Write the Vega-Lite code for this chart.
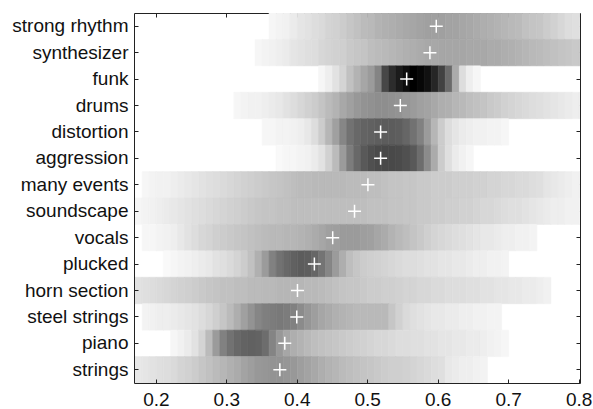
{
  "$schema": "https://vega.github.io/schema/vega-lite/v6.json",
  "width": 446,
  "height": 370,
  "autosize": {"type": "none"},
  "padding": {"left": 134, "top": 13, "right": 13, "bottom": 26},
  "background": "white",
  "config": {
    "view": {"stroke": null},
    "axis": {
      "labelFont": "Liberation Sans",
      "labelFontSize": 19,
      "labelColor": "#111",
      "domainColor": "#222",
      "tickColor": "#222",
      "grid": false,
      "tickSize": -4,
      "domainWidth": 1,
      "tickWidth": 1
    }
  },
  "datasets": {
    "means": [
      {"tag": "strong rhythm", "mean": 0.598},
      {"tag": "synthesizer", "mean": 0.589},
      {"tag": "funk", "mean": 0.556},
      {"tag": "drums", "mean": 0.547},
      {"tag": "distortion", "mean": 0.519},
      {"tag": "aggression", "mean": 0.519},
      {"tag": "many events", "mean": 0.501},
      {"tag": "soundscape", "mean": 0.482},
      {"tag": "vocals", "mean": 0.451},
      {"tag": "plucked", "mean": 0.425},
      {"tag": "horn section", "mean": 0.401},
      {"tag": "steel strings", "mean": 0.4},
      {"tag": "piano", "mean": 0.383},
      {"tag": "strings", "mean": 0.376}
    ],
    "cells": [
      {"tag":"strong rhythm","x":0.36,"d":0.03},{"tag":"strong rhythm","x":0.37,"d":0.04},{"tag":"strong rhythm","x":0.38,"d":0.05},{"tag":"strong rhythm","x":0.39,"d":0.07},{"tag":"strong rhythm","x":0.40,"d":0.09},{"tag":"strong rhythm","x":0.41,"d":0.10},{"tag":"strong rhythm","x":0.42,"d":0.12},{"tag":"strong rhythm","x":0.43,"d":0.13},{"tag":"strong rhythm","x":0.44,"d":0.15},{"tag":"strong rhythm","x":0.45,"d":0.16},{"tag":"strong rhythm","x":0.46,"d":0.18},{"tag":"strong rhythm","x":0.47,"d":0.20},{"tag":"strong rhythm","x":0.48,"d":0.22},{"tag":"strong rhythm","x":0.49,"d":0.24},{"tag":"strong rhythm","x":0.50,"d":0.25},{"tag":"strong rhythm","x":0.51,"d":0.27},{"tag":"strong rhythm","x":0.52,"d":0.28},{"tag":"strong rhythm","x":0.53,"d":0.29},{"tag":"strong rhythm","x":0.54,"d":0.30},{"tag":"strong rhythm","x":0.55,"d":0.31},{"tag":"strong rhythm","x":0.56,"d":0.32},{"tag":"strong rhythm","x":0.57,"d":0.33},{"tag":"strong rhythm","x":0.58,"d":0.34},{"tag":"strong rhythm","x":0.59,"d":0.34},{"tag":"strong rhythm","x":0.60,"d":0.34},{"tag":"strong rhythm","x":0.61,"d":0.33},{"tag":"strong rhythm","x":0.62,"d":0.33},{"tag":"strong rhythm","x":0.63,"d":0.32},{"tag":"strong rhythm","x":0.64,"d":0.31},{"tag":"strong rhythm","x":0.65,"d":0.30},{"tag":"strong rhythm","x":0.66,"d":0.29},{"tag":"strong rhythm","x":0.67,"d":0.28},{"tag":"strong rhythm","x":0.68,"d":0.27},{"tag":"strong rhythm","x":0.69,"d":0.26},{"tag":"strong rhythm","x":0.70,"d":0.25},{"tag":"strong rhythm","x":0.71,"d":0.24},{"tag":"strong rhythm","x":0.72,"d":0.22},{"tag":"strong rhythm","x":0.73,"d":0.21},{"tag":"strong rhythm","x":0.74,"d":0.20},{"tag":"strong rhythm","x":0.75,"d":0.18},{"tag":"strong rhythm","x":0.76,"d":0.16},{"tag":"strong rhythm","x":0.77,"d":0.14},{"tag":"strong rhythm","x":0.78,"d":0.12},{"tag":"strong rhythm","x":0.79,"d":0.11},{"tag":"strong rhythm","x":0.80,"d":0.10},

      {"tag":"synthesizer","x":0.34,"d":0.03},{"tag":"synthesizer","x":0.35,"d":0.04},{"tag":"synthesizer","x":0.36,"d":0.05},{"tag":"synthesizer","x":0.37,"d":0.06},{"tag":"synthesizer","x":0.38,"d":0.07},{"tag":"synthesizer","x":0.39,"d":0.09},{"tag":"synthesizer","x":0.40,"d":0.10},{"tag":"synthesizer","x":0.41,"d":0.11},{"tag":"synthesizer","x":0.42,"d":0.12},{"tag":"synthesizer","x":0.43,"d":0.14},{"tag":"synthesizer","x":0.44,"d":0.15},{"tag":"synthesizer","x":0.45,"d":0.16},{"tag":"synthesizer","x":0.46,"d":0.17},{"tag":"synthesizer","x":0.47,"d":0.19},{"tag":"synthesizer","x":0.48,"d":0.20},{"tag":"synthesizer","x":0.49,"d":0.21},{"tag":"synthesizer","x":0.50,"d":0.23},{"tag":"synthesizer","x":0.51,"d":0.24},{"tag":"synthesizer","x":0.52,"d":0.25},{"tag":"synthesizer","x":0.53,"d":0.26},{"tag":"synthesizer","x":0.54,"d":0.27},{"tag":"synthesizer","x":0.55,"d":0.28},{"tag":"synthesizer","x":0.56,"d":0.29},{"tag":"synthesizer","x":0.57,"d":0.30},{"tag":"synthesizer","x":0.58,"d":0.31},{"tag":"synthesizer","x":0.59,"d":0.31},{"tag":"synthesizer","x":0.60,"d":0.32},{"tag":"synthesizer","x":0.61,"d":0.32},{"tag":"synthesizer","x":0.62,"d":0.32},{"tag":"synthesizer","x":0.63,"d":0.32},{"tag":"synthesizer","x":0.64,"d":0.31},{"tag":"synthesizer","x":0.65,"d":0.31},{"tag":"synthesizer","x":0.66,"d":0.31},{"tag":"synthesizer","x":0.67,"d":0.30},{"tag":"synthesizer","x":0.68,"d":0.30},{"tag":"synthesizer","x":0.69,"d":0.29},{"tag":"synthesizer","x":0.70,"d":0.28},{"tag":"synthesizer","x":0.71,"d":0.27},{"tag":"synthesizer","x":0.72,"d":0.26},{"tag":"synthesizer","x":0.73,"d":0.25},{"tag":"synthesizer","x":0.74,"d":0.24},{"tag":"synthesizer","x":0.75,"d":0.23},{"tag":"synthesizer","x":0.76,"d":0.22},{"tag":"synthesizer","x":0.77,"d":0.21},{"tag":"synthesizer","x":0.78,"d":0.20},{"tag":"synthesizer","x":0.79,"d":0.19},{"tag":"synthesizer","x":0.80,"d":0.19},

      {"tag":"funk","x":0.43,"d":0.03},{"tag":"funk","x":0.44,"d":0.06},{"tag":"funk","x":0.45,"d":0.10},{"tag":"funk","x":0.46,"d":0.15},{"tag":"funk","x":0.47,"d":0.22},{"tag":"funk","x":0.48,"d":0.27},{"tag":"funk","x":0.49,"d":0.32},{"tag":"funk","x":0.50,"d":0.36},{"tag":"funk","x":0.51,"d":0.45},{"tag":"funk","x":0.52,"d":0.70},{"tag":"funk","x":0.53,"d":0.82},{"tag":"funk","x":0.54,"d":0.90},{"tag":"funk","x":0.55,"d":0.96},{"tag":"funk","x":0.56,"d":1.0},{"tag":"funk","x":0.57,"d":0.98},{"tag":"funk","x":0.58,"d":0.95},{"tag":"funk","x":0.59,"d":0.85},{"tag":"funk","x":0.60,"d":0.72},{"tag":"funk","x":0.61,"d":0.55},{"tag":"funk","x":0.62,"d":0.30},{"tag":"funk","x":0.63,"d":0.12},{"tag":"funk","x":0.64,"d":0.06},{"tag":"funk","x":0.65,"d":0.03},

      {"tag":"drums","x":0.31,"d":0.03},{"tag":"drums","x":0.32,"d":0.04},{"tag":"drums","x":0.33,"d":0.05},{"tag":"drums","x":0.34,"d":0.05},{"tag":"drums","x":0.35,"d":0.06},{"tag":"drums","x":0.36,"d":0.07},{"tag":"drums","x":0.37,"d":0.08},{"tag":"drums","x":0.38,"d":0.10},{"tag":"drums","x":0.39,"d":0.12},{"tag":"drums","x":0.40,"d":0.14},{"tag":"drums","x":0.41,"d":0.16},{"tag":"drums","x":0.42,"d":0.18},{"tag":"drums","x":0.43,"d":0.21},{"tag":"drums","x":0.44,"d":0.24},{"tag":"drums","x":0.45,"d":0.27},{"tag":"drums","x":0.46,"d":0.31},{"tag":"drums","x":0.47,"d":0.34},{"tag":"drums","x":0.48,"d":0.37},{"tag":"drums","x":0.49,"d":0.39},{"tag":"drums","x":0.50,"d":0.40},{"tag":"drums","x":0.51,"d":0.41},{"tag":"drums","x":0.52,"d":0.41},{"tag":"drums","x":0.53,"d":0.40},{"tag":"drums","x":0.54,"d":0.39},{"tag":"drums","x":0.55,"d":0.37},{"tag":"drums","x":0.56,"d":0.36},{"tag":"drums","x":0.57,"d":0.34},{"tag":"drums","x":0.58,"d":0.33},{"tag":"drums","x":0.59,"d":0.31},{"tag":"drums","x":0.60,"d":0.29},{"tag":"drums","x":0.61,"d":0.28},{"tag":"drums","x":0.62,"d":0.26},{"tag":"drums","x":0.63,"d":0.25},{"tag":"drums","x":0.64,"d":0.23},{"tag":"drums","x":0.65,"d":0.22},{"tag":"drums","x":0.66,"d":0.21},{"tag":"drums","x":0.67,"d":0.19},{"tag":"drums","x":0.68,"d":0.18},{"tag":"drums","x":0.69,"d":0.16},{"tag":"drums","x":0.70,"d":0.15},{"tag":"drums","x":0.71,"d":0.14},{"tag":"drums","x":0.72,"d":0.13},{"tag":"drums","x":0.73,"d":0.12},{"tag":"drums","x":0.74,"d":0.11},{"tag":"drums","x":0.75,"d":0.10},{"tag":"drums","x":0.76,"d":0.09},{"tag":"drums","x":0.77,"d":0.08},{"tag":"drums","x":0.78,"d":0.07},{"tag":"drums","x":0.79,"d":0.06},{"tag":"drums","x":0.80,"d":0.06},

      {"tag":"distortion","x":0.35,"d":0.03},{"tag":"distortion","x":0.36,"d":0.03},{"tag":"distortion","x":0.37,"d":0.04},{"tag":"distortion","x":0.38,"d":0.04},{"tag":"distortion","x":0.39,"d":0.05},{"tag":"distortion","x":0.40,"d":0.06},{"tag":"distortion","x":0.41,"d":0.08},{"tag":"distortion","x":0.42,"d":0.12},{"tag":"distortion","x":0.43,"d":0.18},{"tag":"distortion","x":0.44,"d":0.26},{"tag":"distortion","x":0.45,"d":0.34},{"tag":"distortion","x":0.46,"d":0.44},{"tag":"distortion","x":0.47,"d":0.52},{"tag":"distortion","x":0.48,"d":0.56},{"tag":"distortion","x":0.49,"d":0.58},{"tag":"distortion","x":0.50,"d":0.59},{"tag":"distortion","x":0.51,"d":0.60},{"tag":"distortion","x":0.52,"d":0.61},{"tag":"distortion","x":0.53,"d":0.61},{"tag":"distortion","x":0.54,"d":0.60},{"tag":"distortion","x":0.55,"d":0.57},{"tag":"distortion","x":0.56,"d":0.52},{"tag":"distortion","x":0.57,"d":0.46},{"tag":"distortion","x":0.58,"d":0.36},{"tag":"distortion","x":0.59,"d":0.26},{"tag":"distortion","x":0.60,"d":0.18},{"tag":"distortion","x":0.61,"d":0.12},{"tag":"distortion","x":0.62,"d":0.09},{"tag":"distortion","x":0.63,"d":0.07},{"tag":"distortion","x":0.64,"d":0.06},{"tag":"distortion","x":0.65,"d":0.05},{"tag":"distortion","x":0.66,"d":0.05},{"tag":"distortion","x":0.67,"d":0.04},{"tag":"distortion","x":0.68,"d":0.04},{"tag":"distortion","x":0.69,"d":0.03},

      {"tag":"aggression","x":0.37,"d":0.02},{"tag":"aggression","x":0.38,"d":0.03},{"tag":"aggression","x":0.39,"d":0.03},{"tag":"aggression","x":0.40,"d":0.04},{"tag":"aggression","x":0.41,"d":0.05},{"tag":"aggression","x":0.42,"d":0.07},{"tag":"aggression","x":0.43,"d":0.10},{"tag":"aggression","x":0.44,"d":0.16},{"tag":"aggression","x":0.45,"d":0.24},{"tag":"aggression","x":0.46,"d":0.36},{"tag":"aggression","x":0.47,"d":0.48},{"tag":"aggression","x":0.48,"d":0.56},{"tag":"aggression","x":0.49,"d":0.62},{"tag":"aggression","x":0.50,"d":0.66},{"tag":"aggression","x":0.51,"d":0.68},{"tag":"aggression","x":0.52,"d":0.69},{"tag":"aggression","x":0.53,"d":0.69},{"tag":"aggression","x":0.54,"d":0.68},{"tag":"aggression","x":0.55,"d":0.66},{"tag":"aggression","x":0.56,"d":0.62},{"tag":"aggression","x":0.57,"d":0.54},{"tag":"aggression","x":0.58,"d":0.42},{"tag":"aggression","x":0.59,"d":0.30},{"tag":"aggression","x":0.60,"d":0.18},{"tag":"aggression","x":0.61,"d":0.11},{"tag":"aggression","x":0.62,"d":0.07},{"tag":"aggression","x":0.63,"d":0.05},{"tag":"aggression","x":0.64,"d":0.03},

      {"tag":"many events","x":0.18,"d":0.03},{"tag":"many events","x":0.19,"d":0.04},{"tag":"many events","x":0.20,"d":0.05},{"tag":"many events","x":0.21,"d":0.05},{"tag":"many events","x":0.22,"d":0.06},{"tag":"many events","x":0.23,"d":0.07},{"tag":"many events","x":0.24,"d":0.08},{"tag":"many events","x":0.25,"d":0.09},{"tag":"many events","x":0.26,"d":0.10},{"tag":"many events","x":0.27,"d":0.11},{"tag":"many events","x":0.28,"d":0.12},{"tag":"many events","x":0.29,"d":0.13},{"tag":"many events","x":0.30,"d":0.14},{"tag":"many events","x":0.31,"d":0.15},{"tag":"many events","x":0.32,"d":0.16},{"tag":"many events","x":0.33,"d":0.17},{"tag":"many events","x":0.34,"d":0.18},{"tag":"many events","x":0.35,"d":0.19},{"tag":"many events","x":0.36,"d":0.20},{"tag":"many events","x":0.37,"d":0.21},{"tag":"many events","x":0.38,"d":0.22},{"tag":"many events","x":0.39,"d":0.23},{"tag":"many events","x":0.40,"d":0.24},{"tag":"many events","x":0.41,"d":0.24},{"tag":"many events","x":0.42,"d":0.25},{"tag":"many events","x":0.43,"d":0.25},{"tag":"many events","x":0.44,"d":0.25},{"tag":"many events","x":0.45,"d":0.25},{"tag":"many events","x":0.46,"d":0.25},{"tag":"many events","x":0.47,"d":0.24},{"tag":"many events","x":0.48,"d":0.24},{"tag":"many events","x":0.49,"d":0.24},{"tag":"many events","x":0.50,"d":0.23},{"tag":"many events","x":0.51,"d":0.23},{"tag":"many events","x":0.52,"d":0.22},{"tag":"many events","x":0.53,"d":0.21},{"tag":"many events","x":0.54,"d":0.21},{"tag":"many events","x":0.55,"d":0.20},{"tag":"many events","x":0.56,"d":0.20},{"tag":"many events","x":0.57,"d":0.19},{"tag":"many events","x":0.58,"d":0.19},{"tag":"many events","x":0.59,"d":0.18},{"tag":"many events","x":0.60,"d":0.18},{"tag":"many events","x":0.61,"d":0.18},{"tag":"many events","x":0.62,"d":0.17},{"tag":"many events","x":0.63,"d":0.17},{"tag":"many events","x":0.64,"d":0.17},{"tag":"many events","x":0.65,"d":0.16},{"tag":"many events","x":0.66,"d":0.16},{"tag":"many events","x":0.67,"d":0.15},{"tag":"many events","x":0.68,"d":0.15},{"tag":"many events","x":0.69,"d":0.14},{"tag":"many events","x":0.70,"d":0.14},{"tag":"many events","x":0.71,"d":0.13},{"tag":"many events","x":0.72,"d":0.13},{"tag":"many events","x":0.73,"d":0.12},{"tag":"many events","x":0.74,"d":0.11},{"tag":"many events","x":0.75,"d":0.09},{"tag":"many events","x":0.76,"d":0.08},{"tag":"many events","x":0.77,"d":0.07},{"tag":"many events","x":0.78,"d":0.06},{"tag":"many events","x":0.79,"d":0.05},{"tag":"many events","x":0.80,"d":0.05},

      {"tag":"soundscape","x":0.16,"d":0.03},{"tag":"soundscape","x":0.17,"d":0.03},{"tag":"soundscape","x":0.18,"d":0.04},{"tag":"soundscape","x":0.19,"d":0.05},{"tag":"soundscape","x":0.20,"d":0.06},{"tag":"soundscape","x":0.21,"d":0.07},{"tag":"soundscape","x":0.22,"d":0.08},{"tag":"soundscape","x":0.23,"d":0.09},{"tag":"soundscape","x":0.24,"d":0.10},{"tag":"soundscape","x":0.25,"d":0.11},{"tag":"soundscape","x":0.26,"d":0.12},{"tag":"soundscape","x":0.27,"d":0.13},{"tag":"soundscape","x":0.28,"d":0.14},{"tag":"soundscape","x":0.29,"d":0.15},{"tag":"soundscape","x":0.30,"d":0.16},{"tag":"soundscape","x":0.31,"d":0.17},{"tag":"soundscape","x":0.32,"d":0.18},{"tag":"soundscape","x":0.33,"d":0.19},{"tag":"soundscape","x":0.34,"d":0.20},{"tag":"soundscape","x":0.35,"d":0.21},{"tag":"soundscape","x":0.36,"d":0.21},{"tag":"soundscape","x":0.37,"d":0.22},{"tag":"soundscape","x":0.38,"d":0.22},{"tag":"soundscape","x":0.39,"d":0.23},{"tag":"soundscape","x":0.40,"d":0.23},{"tag":"soundscape","x":0.41,"d":0.23},{"tag":"soundscape","x":0.42,"d":0.23},{"tag":"soundscape","x":0.43,"d":0.23},{"tag":"soundscape","x":0.44,"d":0.23},{"tag":"soundscape","x":0.45,"d":0.23},{"tag":"soundscape","x":0.46,"d":0.23},{"tag":"soundscape","x":0.47,"d":0.23},{"tag":"soundscape","x":0.48,"d":0.23},{"tag":"soundscape","x":0.49,"d":0.23},{"tag":"soundscape","x":0.50,"d":0.22},{"tag":"soundscape","x":0.51,"d":0.22},{"tag":"soundscape","x":0.52,"d":0.22},{"tag":"soundscape","x":0.53,"d":0.21},{"tag":"soundscape","x":0.54,"d":0.21},{"tag":"soundscape","x":0.55,"d":0.20},{"tag":"soundscape","x":0.56,"d":0.20},{"tag":"soundscape","x":0.57,"d":0.19},{"tag":"soundscape","x":0.58,"d":0.19},{"tag":"soundscape","x":0.59,"d":0.18},{"tag":"soundscape","x":0.60,"d":0.18},{"tag":"soundscape","x":0.61,"d":0.17},{"tag":"soundscape","x":0.62,"d":0.17},{"tag":"soundscape","x":0.63,"d":0.16},{"tag":"soundscape","x":0.64,"d":0.16},{"tag":"soundscape","x":0.65,"d":0.15},{"tag":"soundscape","x":0.66,"d":0.14},{"tag":"soundscape","x":0.67,"d":0.14},{"tag":"soundscape","x":0.68,"d":0.13},{"tag":"soundscape","x":0.69,"d":0.12},{"tag":"soundscape","x":0.70,"d":0.11},{"tag":"soundscape","x":0.71,"d":0.11},{"tag":"soundscape","x":0.72,"d":0.10},{"tag":"soundscape","x":0.73,"d":0.09},{"tag":"soundscape","x":0.74,"d":0.08},{"tag":"soundscape","x":0.75,"d":0.07},{"tag":"soundscape","x":0.76,"d":0.06},{"tag":"soundscape","x":0.77,"d":0.06},{"tag":"soundscape","x":0.78,"d":0.05},{"tag":"soundscape","x":0.79,"d":0.05},{"tag":"soundscape","x":0.80,"d":0.04},

      {"tag":"vocals","x":0.18,"d":0.03},{"tag":"vocals","x":0.19,"d":0.03},{"tag":"vocals","x":0.20,"d":0.04},{"tag":"vocals","x":0.21,"d":0.05},{"tag":"vocals","x":0.22,"d":0.06},{"tag":"vocals","x":0.23,"d":0.08},{"tag":"vocals","x":0.24,"d":0.10},{"tag":"vocals","x":0.25,"d":0.12},{"tag":"vocals","x":0.26,"d":0.14},{"tag":"vocals","x":0.27,"d":0.15},{"tag":"vocals","x":0.28,"d":0.17},{"tag":"vocals","x":0.29,"d":0.18},{"tag":"vocals","x":0.30,"d":0.19},{"tag":"vocals","x":0.31,"d":0.20},{"tag":"vocals","x":0.32,"d":0.21},{"tag":"vocals","x":0.33,"d":0.22},{"tag":"vocals","x":0.34,"d":0.23},{"tag":"vocals","x":0.35,"d":0.24},{"tag":"vocals","x":0.36,"d":0.25},{"tag":"vocals","x":0.37,"d":0.25},{"tag":"vocals","x":0.38,"d":0.26},{"tag":"vocals","x":0.39,"d":0.26},{"tag":"vocals","x":0.40,"d":0.27},{"tag":"vocals","x":0.41,"d":0.28},{"tag":"vocals","x":0.42,"d":0.30},{"tag":"vocals","x":0.43,"d":0.32},{"tag":"vocals","x":0.44,"d":0.34},{"tag":"vocals","x":0.45,"d":0.35},{"tag":"vocals","x":0.46,"d":0.36},{"tag":"vocals","x":0.47,"d":0.36},{"tag":"vocals","x":0.48,"d":0.36},{"tag":"vocals","x":0.49,"d":0.35},{"tag":"vocals","x":0.50,"d":0.34},{"tag":"vocals","x":0.51,"d":0.32},{"tag":"vocals","x":0.52,"d":0.30},{"tag":"vocals","x":0.53,"d":0.27},{"tag":"vocals","x":0.54,"d":0.25},{"tag":"vocals","x":0.55,"d":0.23},{"tag":"vocals","x":0.56,"d":0.21},{"tag":"vocals","x":0.57,"d":0.19},{"tag":"vocals","x":0.58,"d":0.17},{"tag":"vocals","x":0.59,"d":0.15},{"tag":"vocals","x":0.60,"d":0.14},{"tag":"vocals","x":0.61,"d":0.13},{"tag":"vocals","x":0.62,"d":0.12},{"tag":"vocals","x":0.63,"d":0.11},{"tag":"vocals","x":0.64,"d":0.10},{"tag":"vocals","x":0.65,"d":0.09},{"tag":"vocals","x":0.66,"d":0.08},{"tag":"vocals","x":0.67,"d":0.08},{"tag":"vocals","x":0.68,"d":0.07},{"tag":"vocals","x":0.69,"d":0.06},{"tag":"vocals","x":0.70,"d":0.06},{"tag":"vocals","x":0.71,"d":0.05},{"tag":"vocals","x":0.72,"d":0.05},{"tag":"vocals","x":0.73,"d":0.04},

      {"tag":"plucked","x":0.21,"d":0.02},{"tag":"plucked","x":0.22,"d":0.03},{"tag":"plucked","x":0.23,"d":0.04},{"tag":"plucked","x":0.24,"d":0.05},{"tag":"plucked","x":0.25,"d":0.06},{"tag":"plucked","x":0.26,"d":0.07},{"tag":"plucked","x":0.27,"d":0.08},{"tag":"plucked","x":0.28,"d":0.10},{"tag":"plucked","x":0.29,"d":0.11},{"tag":"plucked","x":0.30,"d":0.13},{"tag":"plucked","x":0.31,"d":0.15},{"tag":"plucked","x":0.32,"d":0.18},{"tag":"plucked","x":0.33,"d":0.22},{"tag":"plucked","x":0.34,"d":0.28},{"tag":"plucked","x":0.35,"d":0.36},{"tag":"plucked","x":0.36,"d":0.46},{"tag":"plucked","x":0.37,"d":0.52},{"tag":"plucked","x":0.38,"d":0.56},{"tag":"plucked","x":0.39,"d":0.59},{"tag":"plucked","x":0.40,"d":0.61},{"tag":"plucked","x":0.41,"d":0.60},{"tag":"plucked","x":0.42,"d":0.57},{"tag":"plucked","x":0.43,"d":0.51},{"tag":"plucked","x":0.44,"d":0.44},{"tag":"plucked","x":0.45,"d":0.36},{"tag":"plucked","x":0.46,"d":0.29},{"tag":"plucked","x":0.47,"d":0.23},{"tag":"plucked","x":0.48,"d":0.20},{"tag":"plucked","x":0.49,"d":0.18},{"tag":"plucked","x":0.50,"d":0.17},{"tag":"plucked","x":0.51,"d":0.16},{"tag":"plucked","x":0.52,"d":0.15},{"tag":"plucked","x":0.53,"d":0.14},{"tag":"plucked","x":0.54,"d":0.13},{"tag":"plucked","x":0.55,"d":0.12},{"tag":"plucked","x":0.56,"d":0.12},{"tag":"plucked","x":0.57,"d":0.11},{"tag":"plucked","x":0.58,"d":0.10},{"tag":"plucked","x":0.59,"d":0.10},{"tag":"plucked","x":0.60,"d":0.09},{"tag":"plucked","x":0.61,"d":0.09},{"tag":"plucked","x":0.62,"d":0.08},{"tag":"plucked","x":0.63,"d":0.08},{"tag":"plucked","x":0.64,"d":0.07},{"tag":"plucked","x":0.65,"d":0.06},{"tag":"plucked","x":0.66,"d":0.06},{"tag":"plucked","x":0.67,"d":0.05},{"tag":"plucked","x":0.68,"d":0.05},{"tag":"plucked","x":0.69,"d":0.04},

      {"tag":"horn section","x":0.16,"d":0.10},{"tag":"horn section","x":0.17,"d":0.10},{"tag":"horn section","x":0.18,"d":0.11},{"tag":"horn section","x":0.19,"d":0.12},{"tag":"horn section","x":0.20,"d":0.13},{"tag":"horn section","x":0.21,"d":0.14},{"tag":"horn section","x":0.22,"d":0.15},{"tag":"horn section","x":0.23,"d":0.16},{"tag":"horn section","x":0.24,"d":0.17},{"tag":"horn section","x":0.25,"d":0.18},{"tag":"horn section","x":0.26,"d":0.19},{"tag":"horn section","x":0.27,"d":0.20},{"tag":"horn section","x":0.28,"d":0.21},{"tag":"horn section","x":0.29,"d":0.22},{"tag":"horn section","x":0.30,"d":0.22},{"tag":"horn section","x":0.31,"d":0.23},{"tag":"horn section","x":0.32,"d":0.23},{"tag":"horn section","x":0.33,"d":0.24},{"tag":"horn section","x":0.34,"d":0.24},{"tag":"horn section","x":0.35,"d":0.25},{"tag":"horn section","x":0.36,"d":0.25},{"tag":"horn section","x":0.37,"d":0.26},{"tag":"horn section","x":0.38,"d":0.26},{"tag":"horn section","x":0.39,"d":0.26},{"tag":"horn section","x":0.40,"d":0.26},{"tag":"horn section","x":0.41,"d":0.25},{"tag":"horn section","x":0.42,"d":0.25},{"tag":"horn section","x":0.43,"d":0.24},{"tag":"horn section","x":0.44,"d":0.23},{"tag":"horn section","x":0.45,"d":0.22},{"tag":"horn section","x":0.46,"d":0.21},{"tag":"horn section","x":0.47,"d":0.20},{"tag":"horn section","x":0.48,"d":0.20},{"tag":"horn section","x":0.49,"d":0.19},{"tag":"horn section","x":0.50,"d":0.18},{"tag":"horn section","x":0.51,"d":0.18},{"tag":"horn section","x":0.52,"d":0.17},{"tag":"horn section","x":0.53,"d":0.17},{"tag":"horn section","x":0.54,"d":0.16},{"tag":"horn section","x":0.55,"d":0.15},{"tag":"horn section","x":0.56,"d":0.15},{"tag":"horn section","x":0.57,"d":0.14},{"tag":"horn section","x":0.58,"d":0.14},{"tag":"horn section","x":0.59,"d":0.13},{"tag":"horn section","x":0.60,"d":0.13},{"tag":"horn section","x":0.61,"d":0.12},{"tag":"horn section","x":0.62,"d":0.12},{"tag":"horn section","x":0.63,"d":0.12},{"tag":"horn section","x":0.64,"d":0.11},{"tag":"horn section","x":0.65,"d":0.11},{"tag":"horn section","x":0.66,"d":0.10},{"tag":"horn section","x":0.67,"d":0.10},{"tag":"horn section","x":0.68,"d":0.09},{"tag":"horn section","x":0.69,"d":0.09},{"tag":"horn section","x":0.70,"d":0.08},{"tag":"horn section","x":0.71,"d":0.08},{"tag":"horn section","x":0.72,"d":0.07},{"tag":"horn section","x":0.73,"d":0.07},{"tag":"horn section","x":0.74,"d":0.06},{"tag":"horn section","x":0.75,"d":0.05},

      {"tag":"steel strings","x":0.18,"d":0.04},{"tag":"steel strings","x":0.19,"d":0.05},{"tag":"steel strings","x":0.20,"d":0.06},{"tag":"steel strings","x":0.21,"d":0.06},{"tag":"steel strings","x":0.22,"d":0.07},{"tag":"steel strings","x":0.23,"d":0.08},{"tag":"steel strings","x":0.24,"d":0.09},{"tag":"steel strings","x":0.25,"d":0.10},{"tag":"steel strings","x":0.26,"d":0.12},{"tag":"steel strings","x":0.27,"d":0.14},{"tag":"steel strings","x":0.28,"d":0.17},{"tag":"steel strings","x":0.29,"d":0.20},{"tag":"steel strings","x":0.30,"d":0.24},{"tag":"steel strings","x":0.31,"d":0.29},{"tag":"steel strings","x":0.32,"d":0.34},{"tag":"steel strings","x":0.33,"d":0.39},{"tag":"steel strings","x":0.34,"d":0.44},{"tag":"steel strings","x":0.35,"d":0.47},{"tag":"steel strings","x":0.36,"d":0.48},{"tag":"steel strings","x":0.37,"d":0.49},{"tag":"steel strings","x":0.38,"d":0.48},{"tag":"steel strings","x":0.39,"d":0.46},{"tag":"steel strings","x":0.40,"d":0.42},{"tag":"steel strings","x":0.41,"d":0.38},{"tag":"steel strings","x":0.42,"d":0.35},{"tag":"steel strings","x":0.43,"d":0.32},{"tag":"steel strings","x":0.44,"d":0.30},{"tag":"steel strings","x":0.45,"d":0.28},{"tag":"steel strings","x":0.46,"d":0.27},{"tag":"steel strings","x":0.47,"d":0.26},{"tag":"steel strings","x":0.48,"d":0.25},{"tag":"steel strings","x":0.49,"d":0.25},{"tag":"steel strings","x":0.50,"d":0.25},{"tag":"steel strings","x":0.51,"d":0.25},{"tag":"steel strings","x":0.52,"d":0.25},{"tag":"steel strings","x":0.53,"d":0.20},{"tag":"steel strings","x":0.54,"d":0.16},{"tag":"steel strings","x":0.55,"d":0.13},{"tag":"steel strings","x":0.56,"d":0.11},{"tag":"steel strings","x":0.57,"d":0.10},{"tag":"steel strings","x":0.58,"d":0.09},{"tag":"steel strings","x":0.59,"d":0.08},{"tag":"steel strings","x":0.60,"d":0.08},{"tag":"steel strings","x":0.61,"d":0.07},{"tag":"steel strings","x":0.62,"d":0.07},{"tag":"steel strings","x":0.63,"d":0.06},{"tag":"steel strings","x":0.64,"d":0.06},{"tag":"steel strings","x":0.65,"d":0.05},{"tag":"steel strings","x":0.66,"d":0.05},{"tag":"steel strings","x":0.67,"d":0.04},{"tag":"steel strings","x":0.68,"d":0.04},

      {"tag":"piano","x":0.22,"d":0.03},{"tag":"piano","x":0.23,"d":0.05},{"tag":"piano","x":0.24,"d":0.07},{"tag":"piano","x":0.25,"d":0.10},{"tag":"piano","x":0.26,"d":0.15},{"tag":"piano","x":0.27,"d":0.24},{"tag":"piano","x":0.28,"d":0.36},{"tag":"piano","x":0.29,"d":0.46},{"tag":"piano","x":0.30,"d":0.52},{"tag":"piano","x":0.31,"d":0.56},{"tag":"piano","x":0.32,"d":0.58},{"tag":"piano","x":0.33,"d":0.59},{"tag":"piano","x":0.34,"d":0.58},{"tag":"piano","x":0.35,"d":0.54},{"tag":"piano","x":0.36,"d":0.45},{"tag":"piano","x":0.37,"d":0.37},{"tag":"piano","x":0.38,"d":0.32},{"tag":"piano","x":0.39,"d":0.29},{"tag":"piano","x":0.40,"d":0.27},{"tag":"piano","x":0.41,"d":0.25},{"tag":"piano","x":0.42,"d":0.23},{"tag":"piano","x":0.43,"d":0.22},{"tag":"piano","x":0.44,"d":0.21},{"tag":"piano","x":0.45,"d":0.20},{"tag":"piano","x":0.46,"d":0.19},{"tag":"piano","x":0.47,"d":0.18},{"tag":"piano","x":0.48,"d":0.17},{"tag":"piano","x":0.49,"d":0.16},{"tag":"piano","x":0.50,"d":0.15},{"tag":"piano","x":0.51,"d":0.14},{"tag":"piano","x":0.52,"d":0.14},{"tag":"piano","x":0.53,"d":0.13},{"tag":"piano","x":0.54,"d":0.12},{"tag":"piano","x":0.55,"d":0.12},{"tag":"piano","x":0.56,"d":0.11},{"tag":"piano","x":0.57,"d":0.11},{"tag":"piano","x":0.58,"d":0.10},{"tag":"piano","x":0.59,"d":0.10},{"tag":"piano","x":0.60,"d":0.09},{"tag":"piano","x":0.61,"d":0.09},{"tag":"piano","x":0.62,"d":0.08},{"tag":"piano","x":0.63,"d":0.08},{"tag":"piano","x":0.64,"d":0.07},{"tag":"piano","x":0.65,"d":0.07},{"tag":"piano","x":0.66,"d":0.06},{"tag":"piano","x":0.67,"d":0.05},{"tag":"piano","x":0.68,"d":0.04},{"tag":"piano","x":0.69,"d":0.03},

      {"tag":"strings","x":0.16,"d":0.08},{"tag":"strings","x":0.17,"d":0.08},{"tag":"strings","x":0.18,"d":0.09},{"tag":"strings","x":0.19,"d":0.10},{"tag":"strings","x":0.20,"d":0.11},{"tag":"strings","x":0.21,"d":0.12},{"tag":"strings","x":0.22,"d":0.13},{"tag":"strings","x":0.23,"d":0.15},{"tag":"strings","x":0.24,"d":0.16},{"tag":"strings","x":0.25,"d":0.18},{"tag":"strings","x":0.26,"d":0.20},{"tag":"strings","x":0.27,"d":0.22},{"tag":"strings","x":0.28,"d":0.24},{"tag":"strings","x":0.29,"d":0.26},{"tag":"strings","x":0.30,"d":0.28},{"tag":"strings","x":0.31,"d":0.30},{"tag":"strings","x":0.32,"d":0.33},{"tag":"strings","x":0.33,"d":0.35},{"tag":"strings","x":0.34,"d":0.37},{"tag":"strings","x":0.35,"d":0.38},{"tag":"strings","x":0.36,"d":0.39},{"tag":"strings","x":0.37,"d":0.39},{"tag":"strings","x":0.38,"d":0.38},{"tag":"strings","x":0.39,"d":0.37},{"tag":"strings","x":0.40,"d":0.35},{"tag":"strings","x":0.41,"d":0.33},{"tag":"strings","x":0.42,"d":0.31},{"tag":"strings","x":0.43,"d":0.29},{"tag":"strings","x":0.44,"d":0.27},{"tag":"strings","x":0.45,"d":0.26},{"tag":"strings","x":0.46,"d":0.24},{"tag":"strings","x":0.47,"d":0.23},{"tag":"strings","x":0.48,"d":0.22},{"tag":"strings","x":0.49,"d":0.21},{"tag":"strings","x":0.50,"d":0.20},{"tag":"strings","x":0.51,"d":0.19},{"tag":"strings","x":0.52,"d":0.18},{"tag":"strings","x":0.53,"d":0.17},{"tag":"strings","x":0.54,"d":0.17},{"tag":"strings","x":0.55,"d":0.16},{"tag":"strings","x":0.56,"d":0.15},{"tag":"strings","x":0.57,"d":0.14},{"tag":"strings","x":0.58,"d":0.13},{"tag":"strings","x":0.59,"d":0.12},{"tag":"strings","x":0.60,"d":0.11},{"tag":"strings","x":0.61,"d":0.08},{"tag":"strings","x":0.62,"d":0.07},{"tag":"strings","x":0.63,"d":0.06},{"tag":"strings","x":0.64,"d":0.06},{"tag":"strings","x":0.65,"d":0.05},{"tag":"strings","x":0.66,"d":0.04}
    ]
  },
  "layer": [
    {
      "data": {"name": "cells"},
      "mark": {"type": "rect", "strokeWidth": 0.6, "clip": true},
      "encoding": {
        "x": {
          "field": "x",
          "type": "quantitative",
          "bin": {"binned": true, "step": 0.01},
          "scale": {"domain": [0.169, 0.802], "nice": false, "zero": false},
          "axis": {"orient": "bottom", "title": null, "values": [0.2, 0.3, 0.4, 0.5, 0.6, 0.7, 0.8], "format": ".1f", "labelPadding": 11, "labelFlush": false}
        },
        "y": {
          "field": "tag",
          "type": "nominal",
          "sort": ["strong rhythm", "synthesizer", "funk", "drums", "distortion", "aggression", "many events", "soundscape", "vocals", "plucked", "horn section", "steel strings", "piano", "strings"],
          "scale": {"paddingInner": 0, "paddingOuter": 0},
          "axis": {"orient": "left", "title": null, "labelPadding": 10}
        },
        "fill": {"field": "d", "type": "quantitative", "scale": {"domain": [0, 1], "range": ["#ffffff", "#000000"]}, "legend": null},
        "stroke": {"field": "d", "type": "quantitative", "scale": {"domain": [0, 1], "range": ["#ffffff", "#000000"]}, "legend": null}
      }
    },
    {
      "data": {"name": "means"},
      "mark": {"type": "point", "shape": "M-1,0H1M0,-1V1", "filled": false, "stroke": "#ffffff", "strokeWidth": 1.5, "size": 169, "opacity": 1},
      "encoding": {
        "x": {"field": "mean", "type": "quantitative", "axis": {"orient": "top", "title": null, "labels": false, "values": [0.2, 0.3, 0.4, 0.5, 0.6, 0.7, 0.8]}},
        "y": {
          "field": "tag",
          "type": "nominal",
          "sort": ["strong rhythm", "synthesizer", "funk", "drums", "distortion", "aggression", "many events", "soundscape", "vocals", "plucked", "horn section", "steel strings", "piano", "strings"],
          "axis": {"orient": "right", "title": null, "labels": false}
        }
      }
    }
  ],
  "resolve": {"axis": {"x": "independent", "y": "independent"}}
}
